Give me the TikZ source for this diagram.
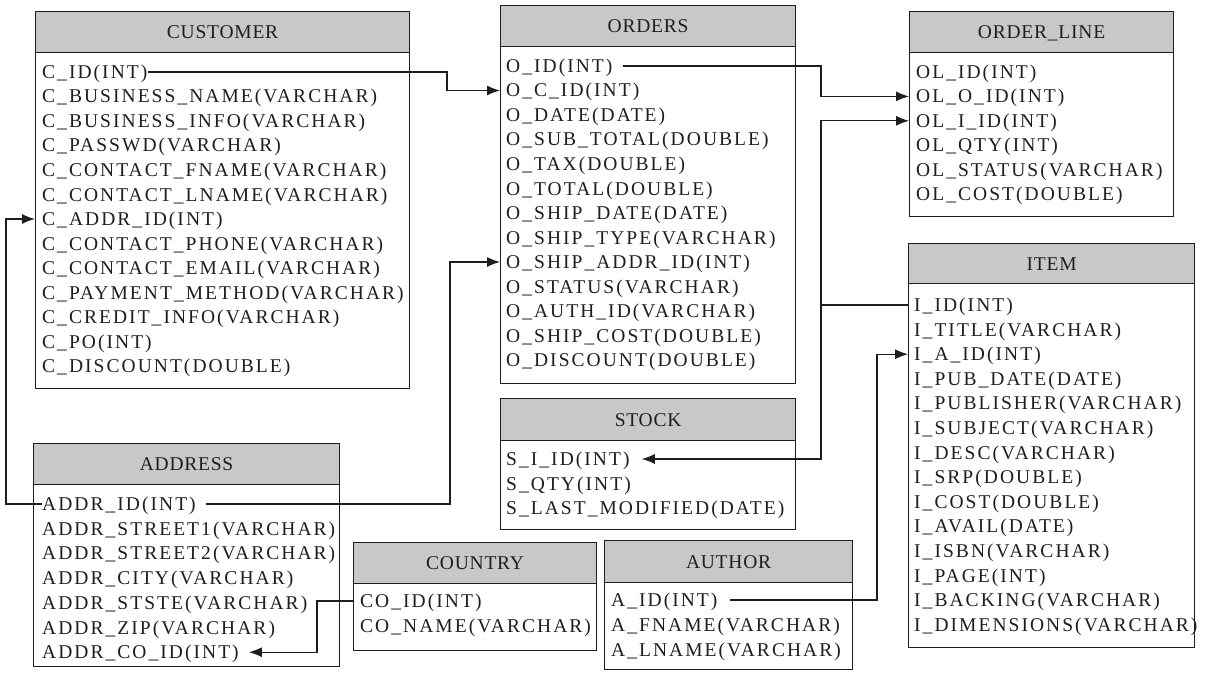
\documentclass[tikz,border=0pt]{standalone}
\usepackage{fontspec}
\setmainfont{Liberation Serif}[LetterSpace=10.5]
\usetikzlibrary{arrows.meta}
\definecolor{hdrgray}{RGB}{199,200,202}
\definecolor{ink}{RGB}{30,30,30}
\newcommand{\tblrows}[4]{%
  \foreach \n/\t [count=\i from 0] in {#4} \node[row] (\n) at (#1, #2+\i*#3) {\t};}
\tikzset{
  tbl/.style={draw=ink, line width=1.2pt, fill=white, anchor=north west, inner sep=0pt},
  hdr/.style={draw=ink, line width=1.2pt, fill=hdrgray, anchor=north west, inner sep=0pt,
     text height=13pt, text depth=0pt, font=\fontsize{19.5}{22}\selectfont\addfontfeature{LetterSpace=4}, text=ink},
  row/.style={anchor=west, inner sep=0pt, text height=13pt, text depth=0pt,
     font=\fontsize{19.5}{22}\selectfont, text=ink},
  conn/.style={draw=ink, line width=1.1pt},
  arr/.style={conn, -{Latex[length=13pt,width=10pt]}}
}
\begin{document}
\begin{tikzpicture}[x=1pt,y=-1pt]
\useasboundingbox (0,0) rectangle (1207,674);
% ---------- CUSTOMER
\node[tbl, minimum width=374, minimum height=377] (customer) at (35,11) {};
\node[hdr, minimum width=374, minimum height=41] (customerH) at (35,11) {CUSTOMER};
\tblrows{42}{72}{24.5}{cid/C\_ID(INT), cbn/C\_BUSINESS\_NAME(VARCHAR), cbi/C\_BUSINESS\_INFO(VARCHAR),
  cpw/C\_PASSWD(VARCHAR), cfn/C\_CONTACT\_FNAME(VARCHAR), cln/C\_CONTACT\_LNAME(VARCHAR),
  caddr/C\_ADDR\_ID(INT), cph/C\_CONTACT\_PHONE(VARCHAR), cem/C\_CONTACT\_EMAIL(VARCHAR),
  cpm/C\_PAYMENT\_METHOD(VARCHAR), cci/C\_CREDIT\_INFO(VARCHAR), cpo/C\_PO(INT), cdi/C\_DISCOUNT(DOUBLE)}
% ---------- ORDERS
\node[tbl, minimum width=295, minimum height=378] (orders) at (500,5) {};
\node[hdr, minimum width=295, minimum height=41] (ordersH) at (500,5) {ORDERS};
\tblrows{506}{66}{24.5}{oid/O\_ID(INT), ocid/O\_C\_ID(INT), odate/O\_DATE(DATE), osub/O\_SUB\_TOTAL(DOUBLE),
  otax/O\_TAX(DOUBLE), otot/O\_TOTAL(DOUBLE), osd/O\_SHIP\_DATE(DATE), ost/O\_SHIP\_TYPE(VARCHAR),
  oship/O\_SHIP\_ADDR\_ID(INT), ostat/O\_STATUS(VARCHAR), oauth/O\_AUTH\_ID(VARCHAR),
  oscost/O\_SHIP\_COST(DOUBLE), odis/O\_DISCOUNT(DOUBLE)}
% ---------- ORDER_LINE
\node[tbl, minimum width=264, minimum height=205] (orderline) at (909,11) {};
\node[hdr, minimum width=264, minimum height=41] (orderlineH) at (909,11) {ORDER\_LINE};
\tblrows{916}{72}{24.4}{olid/OL\_ID(INT), oloid/OL\_O\_ID(INT), oliid/OL\_I\_ID(INT), olqty/OL\_QTY(INT),
  olst/OL\_STATUS(VARCHAR), olcost/OL\_COST(DOUBLE)}
% ---------- ITEM
\node[tbl, minimum width=286, minimum height=404] (item) at (908,243) {};
\node[hdr, minimum width=286, minimum height=40] (itemH) at (908,243) {ITEM};
\tblrows{914}{305}{24.6}{iid/I\_ID(INT), ititle/I\_TITLE(VARCHAR), iaid/I\_A\_ID(INT), ipd/I\_PUB\_DATE(DATE),
  ipub/I\_PUBLISHER(VARCHAR), isub/I\_SUBJECT(VARCHAR), idesc/I\_DESC(VARCHAR), isrp/I\_SRP(DOUBLE),
  icost/I\_COST(DOUBLE), iav/I\_AVAIL(DATE), iisbn/I\_ISBN(VARCHAR), ipage/I\_PAGE(INT),
  iback/I\_BACKING(VARCHAR), idim/I\_DIMENSIONS(VARCHAR)}
% ---------- STOCK
\node[tbl, minimum width=295, minimum height=131] (stock) at (500,398) {};
\node[hdr, minimum width=295, minimum height=42] (stockH) at (500,398) {STOCK};
\tblrows{506}{459}{24.5}{siid/S\_I\_ID(INT), sqty/S\_QTY(INT), slm/S\_LAST\_MODIFIED(DATE)}
% ---------- ADDRESS
\node[tbl, minimum width=306, minimum height=223] (address) at (33,443) {};
\node[hdr, minimum width=306, minimum height=41] (addressH) at (33,443) {ADDRESS};
\tblrows{42}{504}{24.7}{aid/ADDR\_ID(INT), as1/ADDR\_STREET1(VARCHAR), as2/ADDR\_STREET2(VARCHAR),
  acity/ADDR\_CITY(VARCHAR), astate/ADDR\_STSTE(VARCHAR), azip/ADDR\_ZIP(VARCHAR), acoid/ADDR\_CO\_ID(INT)}
% ---------- COUNTRY
\node[tbl, minimum width=243, minimum height=108] (country) at (353,542) {};
\node[hdr, minimum width=243, minimum height=41] (countryH) at (353,542) {COUNTRY};
\tblrows{360}{601}{25}{coid/CO\_ID(INT), coname/CO\_NAME(VARCHAR)}
% ---------- AUTHOR
\node[tbl, minimum width=248, minimum height=129] (author) at (604,540) {};
\node[hdr, minimum width=248, minimum height=42] (authorH) at (604,540) {AUTHOR};
\tblrows{611}{600}{25}{auid/A\_ID(INT), afn/A\_FNAME(VARCHAR), aln/A\_LNAME(VARCHAR)}
% ---------- connectors
\draw[arr] (cid.east) -| (447,80) |- (orders.west |- ocid);
\draw[arr] ([xshift=10pt]oid.east) -| (821,80) |- (orderline.west |- oloid);
\coordinate (jn) at (821,0 |- iid);
\draw[conn] (item.west |- iid) -- (jn);
\draw[arr] (jn) |- (orderline.west |- oliid);
\draw[arr] (jn) |- ([xshift=12pt]siid.east);
\draw[arr] ([xshift=10pt]aid.east) -| (450,300) |- (orders.west |- oship);
\draw[arr] (aid.west) -| (6,300) |- (customer.west |- caddr);
\draw[arr] (country.west |- coid) -| (317,630) |- ([xshift=10pt]acoid.east);
\draw[arr] ([xshift=12pt]auid.east) -| (877,480) |- (item.west |- iaid);
\end{tikzpicture}
\end{document}
